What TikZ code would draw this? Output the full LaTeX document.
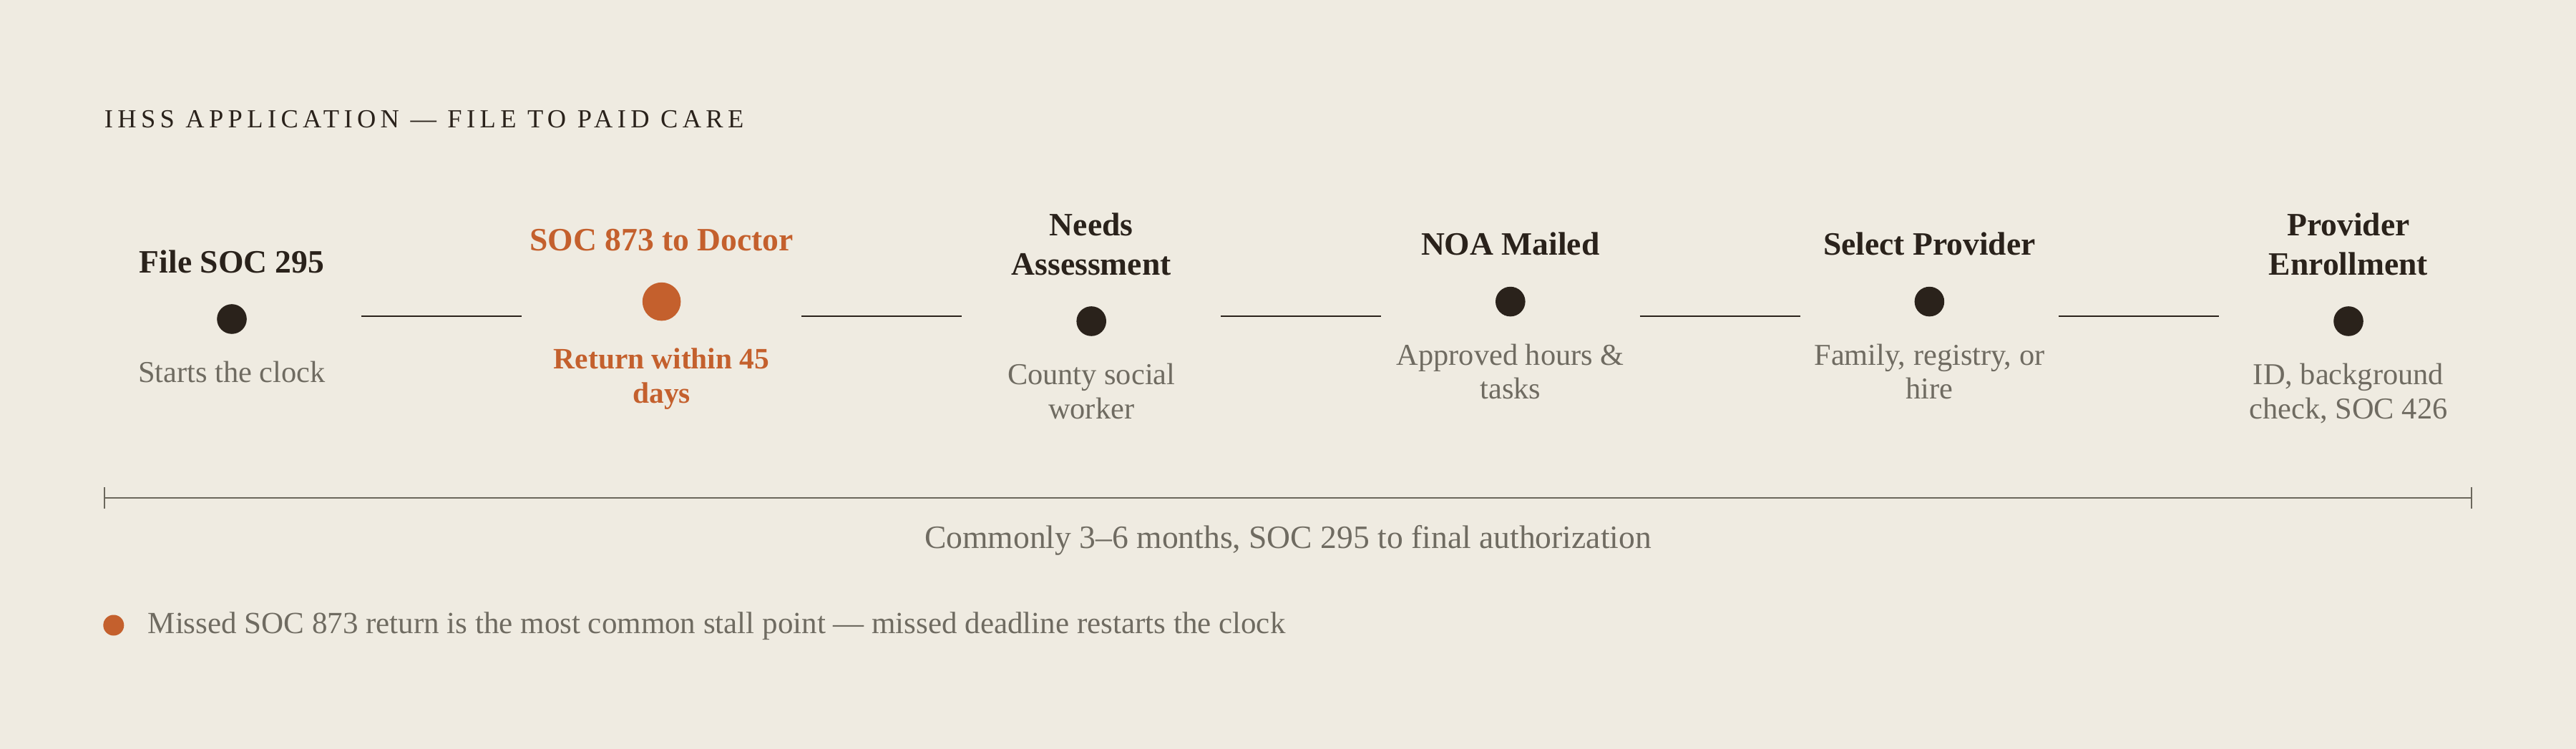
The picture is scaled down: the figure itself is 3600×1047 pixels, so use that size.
\documentclass[tikz,border=0pt]{standalone}
\usepackage{fontspec}
\setmainfont{Liberation Serif}
\usetikzlibrary{positioning,arrows.meta}
\definecolor{paper}{HTML}{EFEBE1}
\definecolor{ink}{HTML}{2A221B}
\definecolor{rust}{HTML}{C4602D}
\definecolor{muted}{HTML}{6F6B61}
\definecolor{rule}{HTML}{6B675C}
\begin{document}
\begin{tikzpicture}[x=0.25pt, y=-0.25pt,
  col/.style={inner sep=0pt, minimum width=90pt, minimum height=0pt},
  stepdot/.style={circle, fill=ink, inner sep=0pt, minimum size=10.4pt},
  hotdot/.style={circle, fill=rust, inner sep=0pt, minimum size=13.4pt},
  steptitle/.style={inner sep=0pt, align=center, text=ink, font=\fontsize{11.4}{13.6}\selectfont\bfseries},
  stepnote/.style={inner sep=0pt, align=center, text=muted, font=\fontsize{10.6}{11.9}\selectfont},
  link/.style={draw=ink, line width=0.55pt}]
\fill[paper] (0,0) rectangle (3600,1047);
\node[anchor=base west, inner sep=0pt, text=ink, font=\fontsize{9.1}{11}\selectfont\addfontfeatures{LetterSpace=17.6}] (head) at (145,179) {IHSS APPLICATION — FILE TO PAID CARE};

\node[col] (c1) at (324,442) {};
\node[col, minimum width=97.5pt, right=56pt of c1] (c2) {};
\foreach \a/\b in {2/3,3/4,4/5,5/6}
  \node[col, right=56pt of c\a] (c\b) {};
\foreach \a/\b in {1/2,2/3,3/4,4/5,5/6}
  \draw[link] (c\a.east) -- (c\b.west);

\foreach \n/\s in {1/-1,3/-1.75,4/5.1,5/5.1,6/-1.75}
  \node[stepdot] (d\n) at ([yshift=\s pt]c\n.center) {};
\node[hotdot] (d2) at ([yshift=5.1pt]c2.center) {};

\node[steptitle, above=10.75pt of d1, anchor=base] (t1) {File SOC 295};
\node[steptitle, text=rust, above=10.8pt of d2, anchor=base] (t2) {SOC 873 to Doctor};
\node[steptitle, above=10.75pt of d3, anchor=base] (t3) {Needs\\Assessment};
\node[steptitle, above=10.75pt of d4, anchor=base] (t4) {NOA Mailed};
\node[steptitle, above=10.75pt of d5, anchor=base] (t5) {Select Provider};
\node[steptitle, above=10.75pt of d6, anchor=base] (t6) {Provider\\Enrollment};

\node[stepnote, below=16.75pt of d1, anchor=base] (n1) {Starts the clock};
\node[stepnote, text=rust, font=\fontsize{10.35}{12}\selectfont\bfseries, below=28.65pt of d2, anchor=base] (n2) {Return within 45\\days};
\node[stepnote, below=28.65pt of d3, anchor=base] (n3) {County social\\worker};
\node[stepnote, below=28.65pt of d4, anchor=base] (n4) {Approved hours \&\\tasks};
\node[stepnote, below=28.65pt of d5, anchor=base] (n5) {Family, registry, or\\hire};
\node[stepnote, below=28.65pt of d6, anchor=base] (n6) {ID, background\\check, SOC 426};

\coordinate (s0) at (145,696);
\coordinate (s1) at (3455,696);
\draw[rule, line width=0.6pt, {Bar[width=7.5pt]}-{Bar[width=7.5pt]}] (s0) -- (s1);
\node[stepnote, font=\fontsize{11.4}{13}\selectfont, anchor=base] (span) at (1800,766.7) {Commonly 3–6 months, SOC 295 to final authorization};

\node[hotdot, minimum size=7.25pt] (key) at (158.8,874) {};
\node[anchor=base west, inner sep=0pt, text=muted, font=\fontsize{10.75}{13}\selectfont] (keynote) at (206,885) {Missed SOC 873 return is the most common stall point — missed deadline restarts the clock};
\end{tikzpicture}
\end{document}
